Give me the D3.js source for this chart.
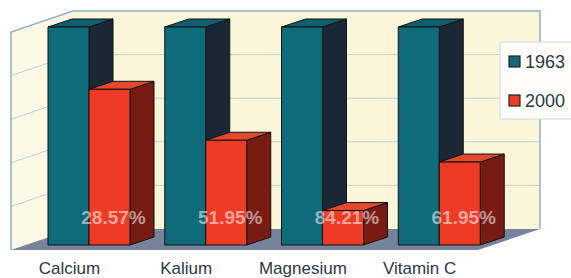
<!DOCTYPE html>
<html><head><meta charset="utf-8">
<script src="https://cdn.jsdelivr.net/npm/d3@7"></script>
<style>body{margin:0;background:#fff;}svg{display:block;}</style>
</head><body>
<svg id="c" width="571" height="278"></svg>
<script>
const categories = ["Calcium", "Kalium", "Magnesium", "Vitamin C"];
const seriesNames = ["1963", "2000"];
const values1963 = [100, 100, 100, 100];
const values2000 = [71.43, 48.05, 15.79, 38.05];
const lossLabels = ["28.57%", "51.95%", "84.21%", "61.95%"];
const gridTicks = [0, 20, 40, 60, 80, 100];

const svg = d3.select("#c");
const colors = {
  "1963": {front: "#0f6b7a", top: "#0d5f6d", side: "#1a2836"},
  "2000": {front: "#ee3b25", top: "#e2492f", side: "#781c13"}
};

// 3D box geometry
const frontL = 11, frontR = 478, floorFront = 250, topFront = 32;
const depth = {dx: 62, dy: -21};
const yBack = d3.scaleLinear([0, 100], [229, 11]);
const yFrontWall = d3.scaleLinear([0, 100], [floorFront, topFront]);
const yBar = d3.scaleLinear([0, 100], [245, 27]);
const x = d3.scaleBand(categories, [frontL, frontR]);
const x1 = d3.scaleBand(seriesNames, [0, 82]);
const barOff = 37;
const bd = {dx: 24, dy: -8};

const backL = frontL + depth.dx, backR = frontR + depth.dx;

// left wall
svg.append("polygon")
  .attr("points", [[frontL, yFrontWall(0)], [frontL, yFrontWall(100)], [backL, yBack(100)], [backL, yBack(0)]].join(" "))
  .attr("fill", "#fdf8e6");
// back wall
svg.append("rect").attr("x", backL).attr("y", yBack(100)).attr("width", backR - backL).attr("height", yBack(0) - yBack(100))
  .attr("fill", "#fbf5d9");
// floor
svg.append("polygon")
  .attr("points", [[frontL, floorFront], [backL, yBack(0)], [backR, yBack(0)], [frontR, floorFront]].join(" "))
  .attr("fill", "#76839a");

// gridlines
const g = svg.append("g").attr("stroke", "#bcd2d0").attr("stroke-width", 1).attr("fill", "none");
gridTicks.slice(1, -1).forEach(t => {
  g.append("line").attr("x1", backL).attr("x2", backR).attr("y1", yBack(t)).attr("y2", yBack(t));
  g.append("line").attr("x1", frontL).attr("x2", backL).attr("y1", yFrontWall(t)).attr("y2", yBack(t));
});
// wall edges
svg.append("path")
  .attr("d", `M${frontL},${yFrontWall(0)}L${frontL},${yFrontWall(100)}L${backL},${yBack(100)}L${backR},${yBack(100)}L${backR},${yBack(0)}`)
  .attr("fill", "none").attr("stroke", "#8db3c6").attr("stroke-width", 1.5);

// bars
const bars = svg.append("g").attr("stroke", "#111").attr("stroke-width", 1).attr("stroke-linejoin", "round");
categories.forEach((c, i) => {
  [["1963", values1963[i]], ["2000", values2000[i]]].forEach(([s, v]) => {
    const x0 = x(c) + barOff + x1(s), x1p = x0 + x1.bandwidth();
    const yt = yBar(v), yb = yBar(0);
    const col = colors[s];
    bars.append("polygon").attr("fill", col.side)
      .attr("points", [[x1p, yt], [x1p + bd.dx, yt + bd.dy], [x1p + bd.dx, yb + bd.dy], [x1p, yb]].join(" "));
    bars.append("polygon").attr("fill", col.top)
      .attr("points", [[x0, yt], [x0 + bd.dx, yt + bd.dy], [x1p + bd.dx, yt + bd.dy], [x1p, yt]].join(" "));
    bars.append("rect").attr("fill", col.front).attr("x", x0).attr("y", yt).attr("width", x1p - x0).attr("height", yb - yt);
  });
});

// loss labels
svg.append("g").selectAll("text").data(categories).join("text")
  .attr("x", c => x(c) + barOff + x1("2000") + x1.bandwidth() / 2 + 4)
  .attr("y", 224)
  .attr("text-anchor", "middle")
  .attr("font-family", "Liberation Sans, Arial, sans-serif")
  .attr("font-weight", "bold").attr("font-size", 19)
  .attr("fill", "rgba(255,255,255,0.55)")
  .text((c, i) => lossLabels[i]);

// category labels
svg.append("g").selectAll("text").data(categories).join("text")
  .attr("x", c => x(c) + x.bandwidth() / 2)
  .attr("y", 274)
  .attr("text-anchor", "middle")
  .attr("font-family", "Liberation Sans, Arial, sans-serif")
  .attr("font-size", 17)
  .attr("fill", "#2b3944")
  .text(c => c);

// legend
const lg = svg.append("g");
lg.append("rect").attr("x", 500).attr("y", 42).attr("width", 80).attr("height", 77)
  .attr("fill", "#fdfcf8").attr("stroke", "#c8d8e0").attr("stroke-width", 1);
seriesNames.forEach((s, i) => {
  const yy = 56 + i * 39;
  lg.append("rect").attr("x", 509).attr("y", yy).attr("width", 11).attr("height", 11)
    .attr("fill", colors[s].front).attr("stroke", "#222").attr("stroke-width", 1.2);
  lg.append("text").attr("x", 525).attr("y", yy + 11.5)
    .attr("font-family", "Liberation Sans, Arial, sans-serif").attr("font-size", 18)
    .attr("fill", "#2b3944").text(s);
});
</script>
</body></html>
